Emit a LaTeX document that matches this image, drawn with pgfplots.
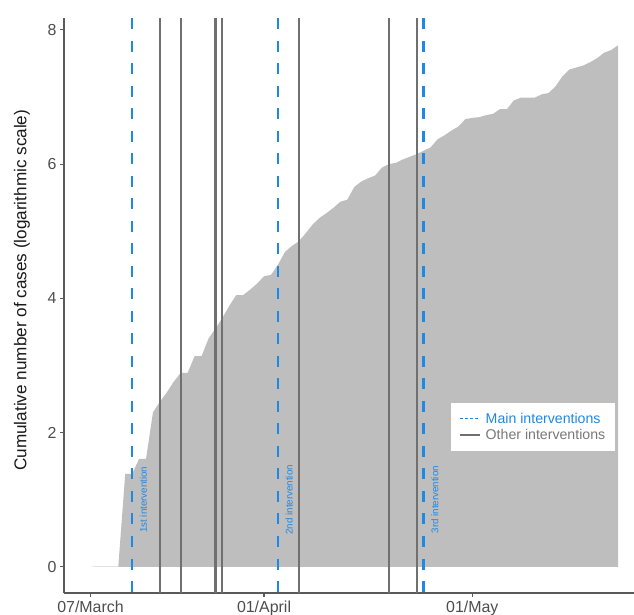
\documentclass[border=0pt]{standalone}
\usepackage{fontspec}
\setmainfont{Liberation Sans}
\usepackage{pgfplots}
\pgfplotsset{compat=1.18}
\definecolor{areagray}{RGB}{190,190,190}
\definecolor{zerogray}{RGB}{226,226,226}
\definecolor{mainblue}{RGB}{30,136,229}
\definecolor{othergray}{RGB}{112,112,112}
\definecolor{legothergray}{RGB}{120,120,120}
\definecolor{axisgray}{RGB}{90,90,90}
\definecolor{ticktext}{RGB}{77,77,77}
\begin{document}
\begin{tikzpicture}
\path[use as bounding box] (-64bp,-22bp) rectangle (570bp,593bp);
\begin{axis}[
  scale only axis,
  width=570bp, height=574.5bp,
  xmin=-3.82, xmax=78.3,
  ymin=-0.39, ymax=8.17,
  axis lines*=left,
  axis line style={axisgray, line width=1.1bp},
  xtick={0,25,55},
  xticklabels={07/March,01/April,01/May},
  ytick={0,2,4,6,8},
  tick style={axisgray, line width=1.1bp},
  tick align=outside,
  major tick length=4bp,
  tick label style={font=\fontsize{16}{19}\selectfont, text=ticktext},
  /pgf/number format/assume math mode=true,
  every axis y label/.style={at={(rel axis cs:-0.0737,0.527)}, rotate=90, anchor=center},
  ylabel={Cumulative number of cases (logarithmic scale)},
  ylabel style={font=\fontsize{17.2}{20}\selectfont, text=black!90},
  legend image code/.code={\draw[#1] (0bp,0bp) -- (20bp,0bp); \path (23.5bp,0bp);},
  legend cell align=left,
  legend style={at={(rel axis cs:0.679,0.3307)}, anchor=north west,
    fill=white, draw=none, font=\fontsize{14.2}{16}\selectfont,
    inner xsep=8bp, inner ysep=8bp, row sep=0.7bp,
    nodes={inner sep=1.8bp}},
]
\addplot[forget plot, fill=areagray, draw=none] table {
x y
0 0
1 0
2 0
3 0
4 0
5 1.386
6 1.386
7 1.609
8 1.609
9 2.303
10 2.46
11 2.60
12 2.76
13 2.89
14 2.89
15 3.14
16 3.14
17 3.40
18 3.55
19 3.71
20 3.89
21 4.05
22 4.05
23 4.13
24 4.22
25 4.33
26 4.35
27 4.50
28 4.69
29 4.78
30 4.85
31 4.97
32 5.10
33 5.20
34 5.27
35 5.35
36 5.44
37 5.47
38 5.66
39 5.74
40 5.79
41 5.83
42 5.95
43 6.00
44 6.02
45 6.07
46 6.11
47 6.15
48 6.20
49 6.25
50 6.37
51 6.43
52 6.50
53 6.56
54 6.67
55 6.69
56 6.70
57 6.73
58 6.75
59 6.82
60 6.82
61 6.95
62 6.99
63 6.99
64 6.99
65 7.04
66 7.06
67 7.16
68 7.31
69 7.41
70 7.44
71 7.47
72 7.52
73 7.58
74 7.66
75 7.70
76 7.77
} \closedcycle;
\addplot[forget plot, zerogray, line width=1.3bp] coordinates {(0.4,0) (4,0)};
% other interventions
\addplot[forget plot, othergray, line width=2.1bp] coordinates {(10,8.17) (10,-0.39)};
\addplot[forget plot, othergray, line width=2.1bp] coordinates {(13,8.17) (13,-0.39)};
\addplot[forget plot, othergray, line width=2.1bp] coordinates {(18,8.17) (18,-0.39)};
\addplot[forget plot, othergray, line width=2.1bp] coordinates {(19,8.17) (19,-0.39)};
\addplot[forget plot, othergray, line width=2.1bp] coordinates {(30,8.17) (30,-0.39)};
\addplot[forget plot, othergray, line width=2.1bp] coordinates {(43,8.17) (43,-0.39)};
\addplot[forget plot, othergray, line width=2.1bp] coordinates {(47,8.17) (47,-0.39)};
% main interventions
\addplot[forget plot, mainblue, line width=2.6bp, dash pattern=on 11bp off 11.5bp] coordinates {(6,8.17) (6,-0.39)};
\addplot[forget plot, mainblue, line width=2.6bp, dash pattern=on 11bp off 11.5bp] coordinates {(27,8.17) (27,-0.39)};
\addplot[forget plot, mainblue, line width=2.6bp, dash pattern=on 11bp off 11.5bp] coordinates {(48,8.17) (48,-0.39)};
\node[rotate=90, text=mainblue, font=\fontsize{9.8}{11}\selectfont, inner sep=0pt] at (axis cs:7.6,1.0) {1st intervention};
\node[rotate=90, text=mainblue, font=\fontsize{9.8}{11}\selectfont, inner sep=0pt] at (axis cs:28.6,1.0) {2nd intervention};
\node[rotate=90, text=mainblue, font=\fontsize{9.8}{11}\selectfont, inner sep=0pt] at (axis cs:49.6,1.0) {3rd intervention};
\addlegendimage{mainblue, line width=1.2bp, dash pattern=on 3bp off 2bp}
\addlegendentry{\textcolor{mainblue}{Main interventions}}
\addlegendimage{othergray, line width=1.2bp}
\addlegendentry{\textcolor{legothergray}{Other interventions}}
\end{axis}
\end{tikzpicture}
\end{document}
